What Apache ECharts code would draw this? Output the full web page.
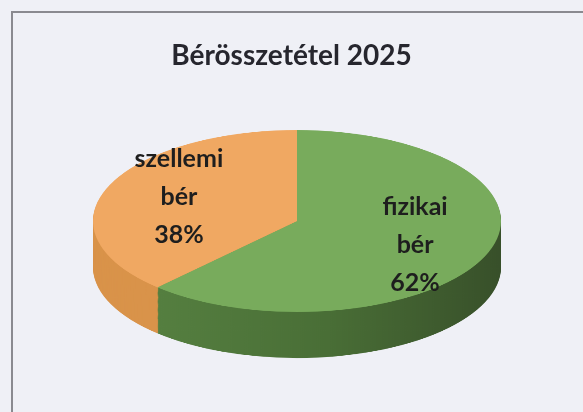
<!DOCTYPE html>
<html>
<head>
<meta charset="utf-8">
<script src="https://cdn.jsdelivr.net/npm/echarts@6/dist/echarts.min.js"></script>
<style>
  html, body { margin: 0; padding: 0; background: #EFF0F6; width: 583px; height: 412px; overflow: hidden; }
  #frame { position: absolute; left: 11px; top: 11px; width: 600px; height: 420px; border-left: 2px solid #8A8A90; border-top: 2px solid #8A8A90; }
  #pie3d { position: absolute; left: 0; top: 0; width: 583px; height: 760px; transform: scaleY(0.446); transform-origin: 0 221px; }
  #overlay { position: absolute; left: 0; top: 0; width: 583px; height: 412px; }
</style>
</head>
<body>
<div id="frame"></div>
<div id="pie3d"></div>
<div id="overlay"></div>
<script>
// ---- data ----
const titleText = 'Bérösszetétel 2025';
const categories = ['fizikai bér', 'szellemi bér'];
const values = [62, 38];

// ---- styles ----
const topColors = ['#78AB5C', '#F0A862'];
const sideColors = [
  { type: 'linear', x: 0, y: 0, x2: 1, y2: 0,
    colorStops: [{ offset: 0, color: '#557F40' }, { offset: 0.5, color: '#496E36' }, { offset: 1, color: '#38502A' }] },
  '#D9934A'
];
const squash = 0.446;          // ellipse ratio (must match CSS scaleY)
const cx = 297, cy = 221, R = 204;
const depth = 46;              // visible thickness on screen, px
const layers = 52;
const labelSquash = 0.52;

const makeData = (colors) => categories.map((c, i) => ({
  name: c, value: values[i], itemStyle: { color: colors[i], borderWidth: 0 }
}));

// ---- 3D pie body (stack of pies, squashed by CSS) ----
const series = [];
const off = depth / squash;
for (let l = layers; l >= 1; l--) {
  series.push({
    type: 'pie', silent: true, z: 1,
    center: [cx, cy + off * l / layers], radius: R,
    startAngle: 90, clockwise: true,
    label: { show: false }, labelLine: { show: false },
    data: makeData(sideColors)
  });
}
series.push({
  type: 'pie', silent: true, z: 2,
  center: [cx, cy], radius: R, startAngle: 90, clockwise: true,
  label: { show: false }, labelLine: { show: false },
  data: makeData(topColors)
});

const pieChart = echarts.init(document.getElementById('pie3d'), null, { renderer: 'canvas' });
pieChart.setOption({ animation: false, series: series });

// ---- overlay: title + labels ----
const ov = echarts.init(document.getElementById('overlay'), null, { renderer: 'canvas' });
ov.setOption({
  animation: false,
  title: {
    text: titleText, left: 'center', top: 37,
    textStyle: { fontFamily: 'Lato', fontWeight: 'bold', fontSize: 28, color: '#26262E' }
  },
  series: [{
    type: 'pie', silent: true,
    center: [cx, cy], radius: 248, startAngle: 90, clockwise: true,
    itemStyle: { color: 'transparent', borderWidth: 0 },
    labelLine: { show: false },
    label: {
      show: true, position: 'inside',
      fontFamily: 'Lato', fontWeight: 'bold', fontSize: 25, lineHeight: 38, color: '#1E1E1E',
      formatter: (p) => p.name.split(' ').join('\n') + '\n' + Math.round(p.percent) + '%'
    },
    labelLayout: (p) => {
      const lx = p.labelRect.x + p.labelRect.width / 2;
      const ly = p.labelRect.y + p.labelRect.height / 2;
      return { x: lx, y: cy + (ly - cy) * labelSquash, align: 'center', verticalAlign: 'middle' };
    },
    data: categories.map((c, i) => ({ name: c, value: values[i] }))
  }]
});
</script>
</body>
</html>
